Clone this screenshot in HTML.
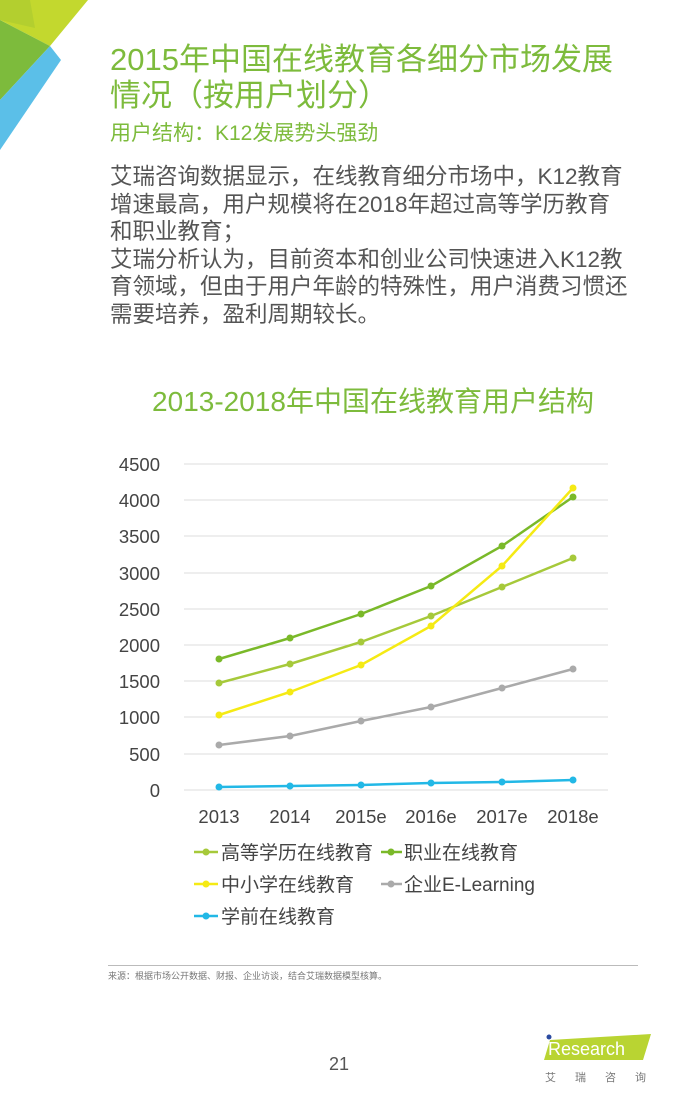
<!DOCTYPE html>
<html><head><meta charset="utf-8"><style>
body{margin:0;width:680px;height:1115px;background:#fff;position:relative;overflow:hidden;font-family:"Liberation Sans","Noto Sans CJK SC",sans-serif}
.a{position:absolute;white-space:nowrap}
</style></head><body>
<svg class="a" style="left:0;top:0" width="100" height="160">
<polygon points="0,0 88,0 50,46 0,20" fill="#c3d82e"/>
<polygon points="0,20 50,46 0,100" fill="#7dbb3c"/>
<polygon points="0,0 30,0 35,28 0,20" fill="#a9ca30" opacity="0.6"/>
<polygon points="0,100 50,46 61,60 0,150" fill="#5bbfe8"/>
</svg>
<div class="a" style="left:110px;top:42px;font-size:31px;color:#7dbb3c;line-height:36px">2015年中国在线教育各细分市场发展<br>情况（按用户划分）</div>
<div class="a" style="left:110px;top:117px;font-size:21px;color:#7dbb3c">用户结构：K12发展势头强劲</div>
<div class="a" style="left:110px;top:163px;font-size:22.5px;color:#555;line-height:27.6px">艾瑞咨询数据显示，在线教育细分市场中，K12教育<br>增速最高，用户规模将在2018年超过高等学历教育<br>和职业教育；<br>艾瑞分析认为，目前资本和创业公司快速进入K12教<br>育领域，但由于用户年龄的特殊性，用户消费习惯还<br>需要培养，盈利周期较长。</div>
<div class="a" style="left:0;width:746px;text-align:center;top:380px;font-size:28px;color:#7dbb3c">2013-2018年中国在线教育用户结构</div>
<svg class="a" style="left:0;top:440px" width="680" height="500" font-family="Liberation Sans,sans-serif">
<g stroke="#ddd" stroke-width="1">
<line x1="184" x2="608" y1="24" y2="24"/><line x1="184" x2="608" y1="60" y2="60"/><line x1="184" x2="608" y1="96" y2="96"/><line x1="184" x2="608" y1="133" y2="133"/><line x1="184" x2="608" y1="169" y2="169"/><line x1="184" x2="608" y1="205" y2="205"/><line x1="184" x2="608" y1="241" y2="241"/><line x1="184" x2="608" y1="277" y2="277"/><line x1="184" x2="608" y1="314" y2="314"/><line x1="184" x2="608" y1="350" y2="350"/>
</g>
<g font-size="18.5" fill="#444" text-anchor="end">
<text x="160" y="31">4500</text><text x="160" y="67">4000</text><text x="160" y="103">3500</text><text x="160" y="140">3000</text><text x="160" y="176">2500</text><text x="160" y="212">2000</text><text x="160" y="248">1500</text><text x="160" y="284">1000</text><text x="160" y="321">500</text><text x="160" y="357">0</text>
</g>
<g font-size="18.5" fill="#444" text-anchor="middle">
<text x="219" y="383">2013</text><text x="290" y="383">2014</text><text x="361" y="383">2015e</text><text x="431" y="383">2016e</text><text x="502" y="383">2017e</text><text x="573" y="383">2018e</text>
</g>
<g fill="none" stroke-width="2.5">
<polyline stroke="#a6c93a" points="219,243 290,224 361,202 431,176 502,147 573,118"/>
<polyline stroke="#7ab929" points="219,219 290,198 361,174 431,146 502,106 573,57"/>
<polyline stroke="#f5ea14" points="219,275 290,252 361,225 431,186 502,126 573,48"/>
<polyline stroke="#aaa" points="219,305 290,296 361,281 431,267 502,248 573,229"/>
<polyline stroke="#22b8e6" points="219,347 290,346 361,345 431,343 502,342 573,340"/>
</g>
<g fill="#a6c93a"><circle cx="219" cy="243" r="3.5"/><circle cx="290" cy="224" r="3.5"/><circle cx="361" cy="202" r="3.5"/><circle cx="431" cy="176" r="3.5"/><circle cx="502" cy="147" r="3.5"/><circle cx="573" cy="118" r="3.5"/></g>
<g fill="#7ab929"><circle cx="219" cy="219" r="3.5"/><circle cx="290" cy="198" r="3.5"/><circle cx="361" cy="174" r="3.5"/><circle cx="431" cy="146" r="3.5"/><circle cx="502" cy="106" r="3.5"/><circle cx="573" cy="57" r="3.5"/></g>
<g fill="#f5ea14"><circle cx="219" cy="275" r="3.5"/><circle cx="290" cy="252" r="3.5"/><circle cx="361" cy="225" r="3.5"/><circle cx="431" cy="186" r="3.5"/><circle cx="502" cy="126" r="3.5"/><circle cx="573" cy="48" r="3.5"/></g>
<g fill="#aaa"><circle cx="219" cy="305" r="3.5"/><circle cx="290" cy="296" r="3.5"/><circle cx="361" cy="281" r="3.5"/><circle cx="431" cy="267" r="3.5"/><circle cx="502" cy="248" r="3.5"/><circle cx="573" cy="229" r="3.5"/></g>
<g fill="#22b8e6"><circle cx="219" cy="347" r="3.5"/><circle cx="290" cy="346" r="3.5"/><circle cx="361" cy="345" r="3.5"/><circle cx="431" cy="343" r="3.5"/><circle cx="502" cy="342" r="3.5"/><circle cx="573" cy="340" r="3.5"/></g>
<g stroke-width="2.5">
<line x1="194" x2="218" y1="412" y2="412" stroke="#a6c93a"/><circle cx="206" cy="412" r="3.5" fill="#a6c93a"/>
<line x1="381" x2="402" y1="412" y2="412" stroke="#7ab929"/><circle cx="391" cy="412" r="3.5" fill="#7ab929"/>
<line x1="194" x2="218" y1="444" y2="444" stroke="#f5ea14"/><circle cx="206" cy="444" r="3.5" fill="#f5ea14"/>
<line x1="381" x2="402" y1="444" y2="444" stroke="#aaa"/><circle cx="391" cy="444" r="3.5" fill="#aaa"/>
<line x1="194" x2="218" y1="476" y2="476" stroke="#22b8e6"/><circle cx="206" cy="476" r="3.5" fill="#22b8e6"/>
</g>
<g font-size="19" fill="#444" font-family="Liberation Sans,Noto Sans CJK SC,sans-serif">
<text x="221" y="419">高等学历在线教育</text><text x="404" y="419">职业在线教育</text>
<text x="221" y="451">中小学在线教育</text><text x="404" y="451">企业E-Learning</text>
<text x="221" y="483">学前在线教育</text>
</g>
</svg>
<div class="a" style="left:108px;top:965px;width:530px;border-top:1px solid #bbb"></div>
<div class="a" style="left:108px;top:969px;font-size:9px;color:#777">来源：根据市场公开数据、财报、企业访谈，结合艾瑞数据模型核算。</div>
<div class="a" style="left:329px;top:1054px;font-size:18px;color:#555">21</div>
<svg class="a" style="left:540px;top:1032px" width="115" height="30"><polygon points="10,8 111,2 103,28 4,28" fill="#b9d432"/><circle cx="9" cy="5" r="2.5" fill="#2a4aa0"/></svg>
<div class="a" style="left:548px;top:1039px;font-size:18px;color:#fff">Research</div>
<div class="a" style="left:545px;top:1069px;font-size:11px;color:#777;letter-spacing:19px">艾瑞咨询</div>
</body></html>
